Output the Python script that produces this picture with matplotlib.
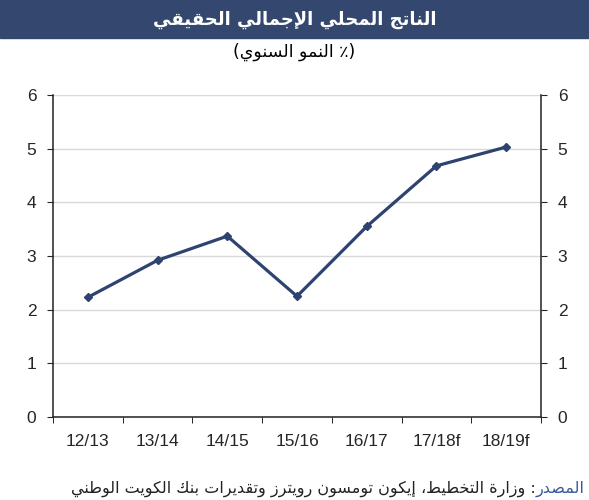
import matplotlib
matplotlib.use('Agg')
import matplotlib.pyplot as plt
from matplotlib.patches import Rectangle
import numpy as np

# data
years = ['12/13', '13/14', '14/15', '15/16', '16/17', '17/18f', '18/19f']
growth = [2.23, 2.92, 3.37, 2.25, 3.55, 4.68, 5.03]
yticks = [0, 1, 2, 3, 4, 5, 6]

title = 'الناتج المحلي الإجمالي الحقيقي'
subtitle = '(٪ النمو السنوي)'
src_head = 'المصدر'
src_body = ': وزارة التخطيط، إيكون تومسون رويترز وتقديرات بنك الكويت الوطني'

# matplotlib does no arabic shaping, so pick presentation forms by hand
# (isolated, final, initial, medial)
FORMS = {
    'ا': ('\ufe8d', '\ufe8e'), 'إ': ('\ufe87', '\ufe88'),
    'ب': ('\ufe8f', '\ufe90', '\ufe91', '\ufe92'),
    'ة': ('\ufe93', '\ufe94'),
    'ت': ('\ufe95', '\ufe96', '\ufe97', '\ufe98'),
    'ج': ('\ufe9d', '\ufe9e', '\ufe9f', '\ufea0'),
    'ح': ('\ufea1', '\ufea2', '\ufea3', '\ufea4'),
    'خ': ('\ufea5', '\ufea6', '\ufea7', '\ufea8'),
    'د': ('\ufea9', '\ufeaa'), 'ر': ('\ufead', '\ufeae'),
    'ز': ('\ufeaf', '\ufeb0'),
    'س': ('\ufeb1', '\ufeb2', '\ufeb3', '\ufeb4'),
    'ص': ('\ufeb9', '\ufeba', '\ufebb', '\ufebc'),
    'ط': ('\ufec1', '\ufec2', '\ufec3', '\ufec4'),
    'ق': ('\ufed5', '\ufed6', '\ufed7', '\ufed8'),
    'ك': ('\ufed9', '\ufeda', '\ufedb', '\ufedc'),
    'ل': ('\ufedd', '\ufede', '\ufedf', '\ufee0'),
    'م': ('\ufee1', '\ufee2', '\ufee3', '\ufee4'),
    'ن': ('\ufee5', '\ufee6', '\ufee7', '\ufee8'),
    'و': ('\ufeed', '\ufeee'),
    'ي': ('\ufef1', '\ufef2', '\ufef3', '\ufef4'),
}
LAM_ALEF = {'ا': ('\ufefb', '\ufefc'), 'إ': ('\ufef9', '\ufefa')}


def ar(s):
    out = []
    i = 0
    while i < len(s):
        c = s[i]
        prev = i > 0 and len(FORMS.get(s[i - 1], ())) == 4
        if c == 'ل' and i + 1 < len(s) and s[i + 1] in LAM_ALEF:
            out.append(LAM_ALEF[s[i + 1]][1 if prev else 0])
            i += 2
            continue
        f = FORMS.get(c)
        if f is None:
            out.append(c)
        else:
            nxt = i + 1 < len(s) and s[i + 1] in FORMS
            if len(f) == 4 and nxt:
                out.append(f[3] if prev else f[2])
            else:
                out.append(f[1] if prev else f[0])
        i += 1
    return ''.join(out)[::-1].translate(str.maketrans('()', ')('))


plt.rcParams['font.family'] = ['Liberation Sans', 'DejaVu Sans']
navy = '#34486F'
line_c = '#2E4370'
txt_c = '#262626'

fig = plt.figure(figsize=(5.89, 5.0), dpi=100)
fig.patches.append(Rectangle((0, 0.924), 1, 0.076, transform=fig.transFigure,
                             color=navy, zorder=0))
fig.text(0.5, 0.960, ar(title), ha='center', va='center', color='white',
         fontsize=13, fontweight='bold', family='DejaVu Sans')
fig.text(0.5, 0.896, ar(subtitle), ha='center', va='center', color='black',
         fontsize=12.5, family='DejaVu Sans')

ax = fig.add_axes([0.090, 0.166, 0.8285, 0.644])
x = np.arange(len(years))
ax.plot(x, growth, color=line_c, lw=2.3, marker='D', ms=4.5, zorder=3)

ax.set_xlim(-0.5, len(years) - 0.5)
ax.set_ylim(0, 6)
ax.set_yticks(yticks)
ax.set_xticks(x)
ax.set_xticklabels(years)
ax.set_xticks(np.arange(-0.5, len(years), 1), minor=True)
ax.tick_params(axis='x', which='major', length=0, pad=12, labelsize=12.5,
               colors=txt_c)
ax.tick_params(axis='x', which='minor', length=4.5, direction='out')
ax.tick_params(axis='y', left=True, right=True, labelleft=True, labelright=True,
               direction='out', length=4, pad=8, labelsize=12.5, colors=txt_c)
ax.spines['top'].set_visible(False)
for s in ['left', 'right', 'bottom']:
    ax.spines[s].set_color('#222222')
    ax.spines[s].set_linewidth(1.1)
ax.grid(axis='y', color='#D9D9D9', lw=1)
ax.set_axisbelow(True)

# source line, blue head on the right, the rest to its left
head = fig.text(0.993, 0.014, ar(src_head), ha='right', va='baseline',
                color='#3A5A9C', fontsize=11.5, family='DejaVu Sans')
fig.canvas.draw()
bb = head.get_window_extent(renderer=fig.canvas.get_renderer())
fig.text(bb.x0 / fig.bbox.width, 0.014, ar(src_body), ha='right',
         va='baseline', color='#222222', fontsize=11.5, family='DejaVu Sans')

fig.savefig('out.png', dpi=100)
